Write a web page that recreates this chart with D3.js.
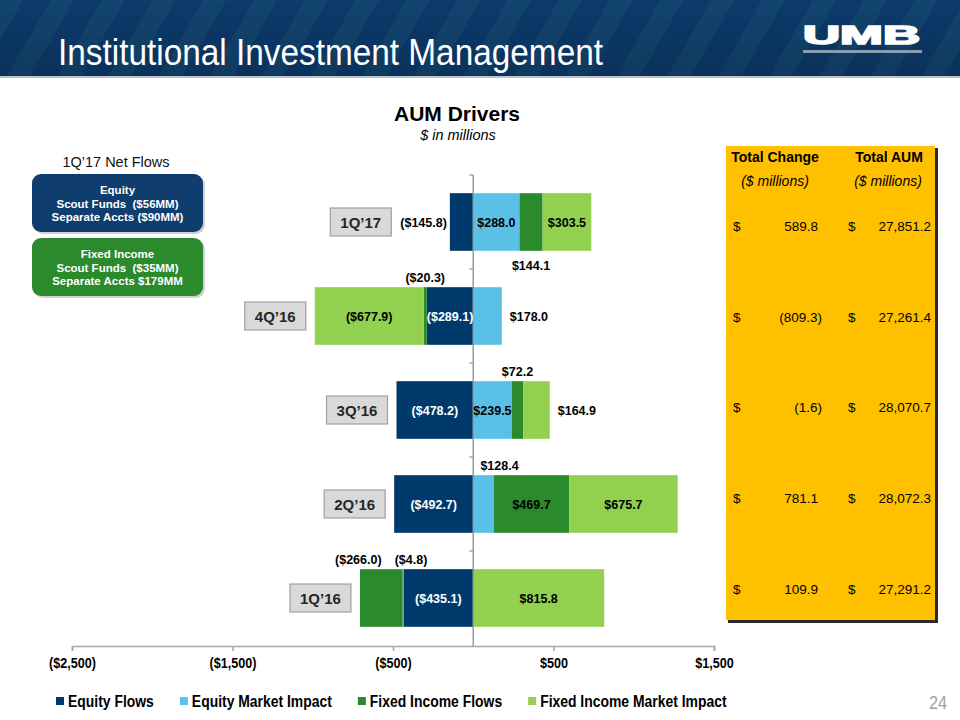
<!DOCTYPE html>
<html>
<head>
<meta charset="utf-8">
<script src="https://cdn.jsdelivr.net/npm/d3@7"></script>
<style>
  html, body { margin: 0; padding: 0; background: #fff; }
  svg { display: block; font-family: "Liberation Sans", Arial, sans-serif; }
</style>
</head>
<body>
<svg id="chart" width="960" height="720"></svg>
<script>
// ---------- data ----------
const quarters = ["1Q\u201917", "4Q\u201916", "3Q\u201916", "2Q\u201916", "1Q\u201916"];
const seriesNames = ["Equity Flows", "Equity Market Impact", "Fixed Income Flows", "Fixed Income Market Impact"];
const equityFlows = [-145.8, -289.1, -478.2, -492.7, -435.1];
const equityMarketImpact = [288.0, 178.0, 239.5, 128.4, -4.8];
const fixedIncomeFlows = [144.1, -20.3, 72.2, 469.7, -266.0];
const fixedIncomeMarketImpact = [303.5, -677.9, 164.9, 675.7, 815.8];
const totalChange = [589.8, -809.3, -1.6, 781.1, 109.9];
const totalAUM = [27851.2, 27261.4, 28070.7, 28072.3, 27291.2];
const xTickValues = [-2500, -1500, -500, 500, 1500];
const xTickLabels = ["($2,500)", "($1,500)", "($500)", "$500", "$1,500"];
const netFlowBoxes = [
  ["Equity", "Scout Funds  ($56MM)", "Separate Accts ($90MM)"],
  ["Fixed Income", "Scout Funds  ($35MM)", "Separate Accts $179MM"]
];

// ---------- style / layout config ----------
const colors = ["#003a6c", "#5bc0e6", "#2a8a2c", "#92d050"];
const labelPlacement = {
  "1Q\u201917": ["left", "in", "below", "in"],
  "4Q\u201916": ["in", "right", "above", "in"],
  "3Q\u201916": ["in", "in", "above", "right"],
  "2Q\u201916": ["in", "above", "in", "in"],
  "1Q\u201916": ["in", "above", "above", "in"]
};
const labelNudge = { "2Q\u201916|1": 16, "1Q\u201916|1": 8, "1Q\u201916|2": -23 };

const svg = d3.select("#chart");
// condense a text element horizontally (narrow look)
function condense(sel, k) {
  sel.each(function () {
    const w = this.getComputedTextLength();
    d3.select(this).attr("textLength", w * k).attr("lengthAdjust", "spacingAndGlyphs");
  });
}

// ---------- header ----------
const defs = svg.append("defs");
const pat = defs.append("pattern").attr("id", "stripes")
  .attr("patternUnits", "userSpaceOnUse").attr("width", 44).attr("height", 44)
  .attr("patternTransform", "rotate(30)");
pat.append("rect").attr("width", 44).attr("height", 44).attr("fill", "#0c3a6b");
pat.append("rect").attr("width", 20).attr("height", 44).attr("fill", "#12446f");
const grad = defs.append("linearGradient").attr("id", "hdrShade").attr("x1", 0).attr("y1", 0).attr("x2", 0).attr("y2", 1);
grad.append("stop").attr("offset", "0%").attr("stop-color", "#000").attr("stop-opacity", 0.0);
grad.append("stop").attr("offset", "100%").attr("stop-color", "#000").attr("stop-opacity", 0.15);

svg.append("rect").attr("x", 0).attr("y", 0).attr("width", 960).attr("height", 76).attr("fill", "url(#stripes)");
svg.append("rect").attr("x", 0).attr("y", 0).attr("width", 960).attr("height", 76).attr("fill", "url(#hdrShade)");
svg.append("rect").attr("x", 0).attr("y", 76).attr("width", 960).attr("height", 2).attr("fill", "#b9c4cf");

svg.append("text").attr("x", 58).attr("y", 65)
  .attr("font-size", 36).attr("fill", "#fff")
  .attr("textLength", 545).attr("lengthAdjust", "spacingAndGlyphs")
  .text("Institutional Investment Management");

// logo
svg.append("text").attr("x", 803).attr("y", 44)
  .attr("font-size", 25).attr("font-weight", "bold").attr("fill", "#fff")
  .attr("stroke", "#fff").attr("stroke-width", 1.6)
  .attr("textLength", 117).attr("lengthAdjust", "spacingAndGlyphs")
  .text("UMB");
svg.append("rect").attr("x", 803).attr("y", 50).attr("width", 119).attr("height", 3).attr("fill", "#8c9bab");

// ---------- chart titles ----------
svg.append("text").attr("x", 457).attr("y", 121).attr("text-anchor", "middle")
  .attr("font-size", 21).attr("font-weight", "bold").attr("fill", "#000").text("AUM Drivers");
svg.append("text").attr("x", 458).attr("y", 140).attr("text-anchor", "middle")
  .attr("font-size", 14.5).attr("font-style", "italic").attr("fill", "#000").text("$ in millions");

// ---------- left net flow boxes ----------
svg.append("text").attr("x", 116).attr("y", 167).attr("text-anchor", "middle")
  .attr("font-size", 14.5).attr("fill", "#111").text("1Q\u201917 Net Flows");
const boxFill = ["#0e3d6e", "#2a8a2c"];
const boxTop = [174, 238];
netFlowBoxes.forEach((lines, i) => {
  const g = svg.append("g");
  g.append("rect").attr("x", 34).attr("y", boxTop[i] + 2).attr("width", 171).attr("height", 58)
    .attr("rx", 9).attr("fill", "#000").attr("opacity", 0.18);
  g.append("rect").attr("x", 32).attr("y", boxTop[i]).attr("width", 171).attr("height", 58)
    .attr("rx", 9).attr("fill", boxFill[i]);
  lines.forEach((t, j) => {
    g.append("text").attr("x", 117.5).attr("y", boxTop[i] + 20 + j * 13.5)
      .attr("text-anchor", "middle").attr("font-size", 11.5).attr("font-weight", "bold")
      .attr("fill", "#fff").style("white-space", "pre").text(t);
  });
});

// ---------- scales ----------
const x = d3.scaleLinear().domain([-2500, 1500]).range([72, 714]);
const y = d3.scaleBand().domain(quarters).range([175, 645]).paddingInner(0.387).paddingOuter(0.1935);

const rows = quarters.map((q, i) => ({
  quarter: q,
  "Equity Flows": equityFlows[i],
  "Equity Market Impact": equityMarketImpact[i],
  "Fixed Income Flows": fixedIncomeFlows[i],
  "Fixed Income Market Impact": fixedIncomeMarketImpact[i]
}));
const stacked = d3.stack().keys(seriesNames).offset(d3.stackOffsetDiverging)(rows);

// bars
svg.append("g").selectAll("g").data(stacked).join("g")
  .attr("fill", (d, i) => colors[i])
  .selectAll("rect").data(d => d).join("rect")
  .attr("x", d => x(Math.min(d[0], d[1])))
  .attr("width", d => Math.abs(x(d[1]) - x(d[0])))
  .attr("y", d => y(d.data.quarter))
  .attr("height", y.bandwidth());

// zero axis (vertical)
const zx = x(0);
svg.append("line").attr("x1", zx).attr("x2", zx).attr("y1", 175).attr("y2", 646)
  .attr("stroke", "#9a9a9a").attr("stroke-width", 1.5);
const yTicks = quarters.map(q => y(q) - y.step() * y.paddingOuter());
svg.append("g").selectAll("line").data(yTicks).join("line")
  .attr("x1", zx - 4).attr("x2", zx).attr("y1", d => d).attr("y2", d => d)
  .attr("stroke", "#9a9a9a").attr("stroke-width", 1.2);

// x axis
const xAxis = d3.axisBottom(x).tickValues(xTickValues).tickSize(5).tickPadding(6)
  .tickFormat((d, i) => xTickLabels[i]);
const gx = svg.append("g").attr("transform", "translate(0,646)").call(xAxis);
gx.select(".domain").attr("stroke", "#a6a6a6").attr("stroke-width", 1.5);
gx.selectAll(".tick line").attr("stroke", "#a6a6a6").attr("stroke-width", 1.5);
gx.selectAll(".tick text").attr("font-family", "'Liberation Sans', Arial, sans-serif").attr("font-size", 15)
  .attr("font-weight", "bold").attr("fill", "#000").attr("dy", "0.75em")
  .call(condense, 0.84);

// value labels
const fmtVal = v => v < 0 ? `($${Math.abs(v).toFixed(1)})` : `$${v.toFixed(1)}`;
const labelG = svg.append("g").attr("font-size", 12.5).attr("font-weight", "bold");
const leftExtents = {};
stacked.forEach((s, si) => {
  s.forEach(d => {
    const q = d.data.quarter;
    const mode = labelPlacement[q][si];
    const v = d.data[seriesNames[si]];
    const x0 = x(Math.min(d[0], d[1])), x1 = x(Math.max(d[0], d[1]));
    const top = y(q), bot = top + y.bandwidth(), mid = top + y.bandwidth() / 2;
    const nudge = labelNudge[q + "|" + si] || 0;
    let tx, ty, anchor = "middle", fill = "#000";
    if (mode === "in") { tx = (x0 + x1) / 2; ty = mid + 4.5; fill = si === 0 ? "#fff" : "#000"; }
    else if (mode === "left") { tx = x0 - 3; ty = mid + 4.5; anchor = "end"; }
    else if (mode === "right") { tx = x1 + 8; ty = mid + 4.5; anchor = "start"; }
    else if (mode === "above") { tx = (x0 + x1) / 2; ty = top - 5; }
    else { tx = (x0 + x1) / 2; ty = bot + 19; }
    const t = labelG.append("text").attr("x", tx + nudge).attr("y", ty)
      .attr("text-anchor", anchor).attr("fill", fill).text(fmtVal(v));
    let ext = x0;
    if (mode === "left") ext = tx - t.node().getComputedTextLength();
    leftExtents[q] = Math.min(leftExtents[q] ?? Infinity, ext);
  });
});

// category boxes
quarters.forEach(q => {
  const right = leftExtents[q] - 9;
  const cy = y(q) + y.bandwidth() / 2;
  svg.append("rect").attr("x", right - 61).attr("y", cy - 14).attr("width", 61).attr("height", 28)
    .attr("fill", "#d9d9d9").attr("stroke", "#a0a0a0").attr("stroke-width", 1.2);
  svg.append("text").attr("x", right - 30.5).attr("y", cy + 5.5).attr("text-anchor", "middle")
    .attr("font-size", 15).attr("font-weight", "bold").attr("fill", "#262626").text(q);
});

// ---------- table ----------
svg.append("rect").attr("x", 728).attr("y", 148).attr("width", 210).attr("height", 475).attr("fill", "#2b2b2b");
svg.append("rect").attr("x", 726).attr("y", 146).attr("width", 209).attr("height", 474).attr("fill", "#ffc000");
const hdr = svg.append("g").attr("font-size", 14).attr("fill", "#000");
hdr.append("text").attr("x", 775).attr("y", 162).attr("text-anchor", "middle").attr("font-weight", "bold").text("Total Change");
hdr.append("text").attr("x", 889).attr("y", 162).attr("text-anchor", "middle").attr("font-weight", "bold").text("Total AUM");
hdr.append("text").attr("x", 775).attr("y", 186).attr("text-anchor", "middle").attr("font-style", "italic").text("($ millions)");
hdr.append("text").attr("x", 888).attr("y", 186).attr("text-anchor", "middle").attr("font-style", "italic").text("($ millions)");

const rowY = d3.scalePoint().domain(quarters).range([226, 588.5]);
const fmtNum = d3.format(",.1f");
const tg = svg.append("g").attr("font-size", 13.5).attr("fill", "#000");
quarters.forEach((q, i) => {
  const yy = rowY(q) + 5;
  const tc = totalChange[i];
  tg.append("text").attr("x", 733).attr("y", yy).text("$");
  tg.append("text").attr("x", tc < 0 ? 822 : 818).attr("y", yy).attr("text-anchor", "end")
    .text(tc < 0 ? `(${fmtNum(-tc)})` : fmtNum(tc));
  tg.append("text").attr("x", 848).attr("y", yy).text("$");
  tg.append("text").attr("x", 931).attr("y", yy).attr("text-anchor", "end").text(fmtNum(totalAUM[i]));
});

// ---------- legend ----------
const lg = svg.append("g");
let lx = 56;
seriesNames.forEach((name, i) => {
  lg.append("rect").attr("x", lx).attr("y", 697).attr("width", 8).attr("height", 8).attr("fill", colors[i]);
  const t = lg.append("text").attr("x", lx + 12).attr("y", 706.5)
    .attr("font-size", 16).attr("font-weight", "bold").attr("fill", "#000").text(name);
  const w = t.node().getComputedTextLength() * 0.87;
  t.attr("textLength", w).attr("lengthAdjust", "spacingAndGlyphs");
  lx += 12 + w + 26;
});

// page number
svg.append("text").attr("x", 947).attr("y", 709).attr("text-anchor", "end")
  .attr("font-size", 18).attr("fill", "#a0a0a0").attr("textLength", 18).attr("lengthAdjust", "spacingAndGlyphs").text("24");
</script>
</body>
</html>
